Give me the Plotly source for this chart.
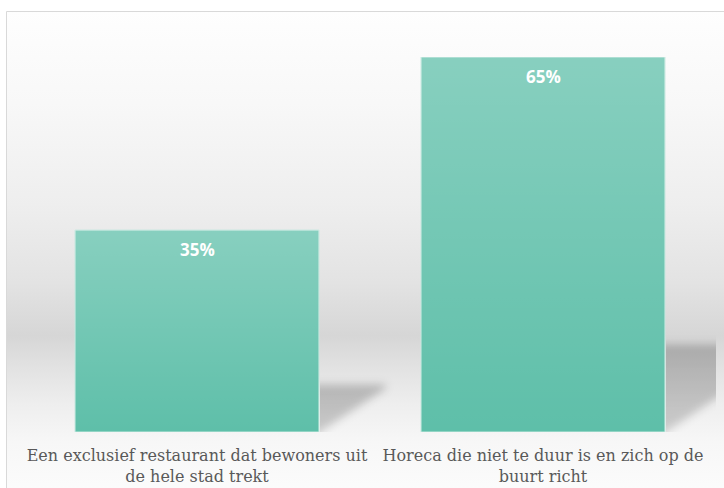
import base64
import plotly.graph_objects as go

# ---- data ----
categories = [
    "Een exclusief restaurant dat bewoners uit<br>de hele stad trekt",
    "Horeca die niet te duur is en zich op de<br>buurt richt",
]
values = [35, 65]
value_labels = ["35%", "65%"]

# ---- style ----
BAR_COLOR = "#5ebfa9"
BAR_WIDTH = 0.705
LABEL_COLOR = "#595959"
W, H = 724, 488
L, R, T, B = 24, 8, 57, 56
pw, ph = W - L - R, H - T - B

x_pos = list(range(len(categories)))
x_range = [-0.5, len(categories) - 0.5]
y_range = [0, max(values)]
PX_X = pw / (x_range[1] - x_range[0])   # px per x unit
PX_Y = ph / (y_range[1] - y_range[0])   # px per y unit


def svg_uri(svg):
    return "data:image/svg+xml;base64," + base64.b64encode(svg.encode()).decode()


fig = go.Figure()

# bars
fig.add_trace(go.Bar(
    x=x_pos, y=values, width=BAR_WIDTH,
    marker=dict(color=BAR_COLOR, line=dict(color="#c6e8df", width=1)),
    hoverinfo="skip", showlegend=False,
))

# gradient highlight overlay on each bar (lighter at top)
for xi, v in zip(x_pos, values):
    xl, xr = xi - BAR_WIDTH / 2, xi + BAR_WIDTH / 2
    fig.add_trace(go.Scatter(
        x=[xl, xr, xr, xl, xl], y=[0, 0, v, v, 0],
        mode="lines", line=dict(width=0), fill="toself",
        fillgradient=dict(type="vertical",
                          colorscale=[[0, "rgba(255,255,255,0)"],
                                      [1, "rgba(255,255,255,0.26)"]]),
        hoverinfo="skip", showlegend=False,
    ))

# value labels inside the bars
for xi, v, lab in zip(x_pos, values, value_labels):
    fig.add_annotation(
        x=xi, y=v, text=lab, showarrow=False, yanchor="middle", yshift=-19,
        font=dict(family="Open Sans", size=17, color="white", weight="bold"),
    )

# background gradient (svg image)
stops = [
    (0.00, "#fefefe"), (0.19, "#f8f8f8"), (0.40, "#eeeeee"),
    (0.56, "#e3e3e3"), (0.67, "#d6d6d6"), (0.73, "#e1e1e1"),
    (0.81, "#eeeeee"), (0.89, "#f7f7f7"), (1.00, "#fcfcfc"),
]
stop_xml = "".join(f'<stop offset="{o}" stop-color="{c}"/>' for o, c in stops)
bg_svg = (f'<svg xmlns="http://www.w3.org/2000/svg" width="100" height="100" '
          f'viewBox="0 0 100 100" preserveAspectRatio="none">'
          f'<defs><linearGradient id="g" x1="0" y1="0" x2="0" y2="1">{stop_xml}</linearGradient></defs>'
          f'<rect x="0" y="0" width="100" height="100" fill="url(#g)"/></svg>')


def px2paper_x(p):
    return (p - L) / pw


def px2paper_y(p):
    return (H - B - p) / ph


box_x0, box_y0, box_x1, box_y1 = 6, 11, 730, 496
fig.add_layout_image(
    source=svg_uri(bg_svg), xref="paper", yref="paper",
    x=px2paper_x(box_x0), y=px2paper_y(box_y0),
    sizex=px2paper_x(box_x1) - px2paper_x(box_x0),
    sizey=px2paper_y(box_y0) - px2paper_y(box_y1),
    xanchor="left", yanchor="top", sizing="stretch", layer="below",
)
fig.add_shape(
    type="rect", xref="paper", yref="paper",
    x0=px2paper_x(box_x0 + 0.5), x1=px2paper_x(box_x1),
    y0=px2paper_y(box_y1), y1=px2paper_y(box_y0 + 0.5),
    line=dict(color="#d9d9d9", width=1), fillcolor="rgba(0,0,0,0)", layer="below",
)

# soft perspective shadows right of each bar (blurred svg placed in data coords)
SH_W = 0.19          # shadow depth in x units
PAD = 14             # px padding for blur
for xi, v in zip(x_pos, values):
    xr = xi + BAR_WIDTH / 2 + 0.003
    s_px = v * 0.235 * PX_Y
    d_px = min(44.0, 0.92 * s_px)
    w_px = SH_W * PX_X
    iw, ih = w_px + PAD, s_px + PAD
    top = PAD
    poly = [(-30, top), (w_px, top), (w_px, top + s_px - d_px),
            (0, top + s_px), (-30, top + s_px + 30)]
    pts = " ".join(f"{a:.1f},{b:.1f}" for a, b in poly)
    sh_svg = (f'<svg xmlns="http://www.w3.org/2000/svg" width="{iw:.1f}" height="{ih:.1f}" '
              f'viewBox="0 0 {iw:.1f} {ih:.1f}" preserveAspectRatio="none">'
              f'<defs><filter id="f" x="-50%" y="-50%" width="200%" height="200%">'
              f'<feGaussianBlur stdDeviation="4"/></filter>'
              f'<linearGradient id="sg" x1="0" y1="0" x2="0" y2="1">'
              f'<stop offset="0" stop-color="#000" stop-opacity="0.22"/>'
              f'<stop offset="1" stop-color="#000" stop-opacity="0.15"/></linearGradient></defs>'
              f'<polygon points="{pts}" fill="url(#sg)" filter="url(#f)"/></svg>')
    fig.add_layout_image(
        source=svg_uri(sh_svg), xref="x", yref="y",
        x=xr, y=(s_px + PAD) / PX_Y, sizex=iw / PX_X, sizey=ih / PX_Y,
        xanchor="left", yanchor="top", sizing="stretch", layer="below",
    )

fig.update_layout(
    width=W, height=H,
    margin=dict(l=L, r=R, t=T, b=B, pad=0, autoexpand=False),
    paper_bgcolor="white", plot_bgcolor="rgba(0,0,0,0)",
    showlegend=False,
    xaxis=dict(range=x_range, tickvals=x_pos, ticktext=categories,
               showgrid=False, zeroline=False, showline=False, ticks="",
               ticklabelstandoff=12, automargin=False,
               tickfont=dict(family="DejaVu Serif", size=16, color=LABEL_COLOR),
               fixedrange=True),
    yaxis=dict(range=y_range, showgrid=False, zeroline=False, showline=False,
               showticklabels=False, ticks="", fixedrange=True, automargin=False),
)

fig.write_html("out.html", config={"displayModeBar": False},
               post_script="document.body.style.margin='0';")
